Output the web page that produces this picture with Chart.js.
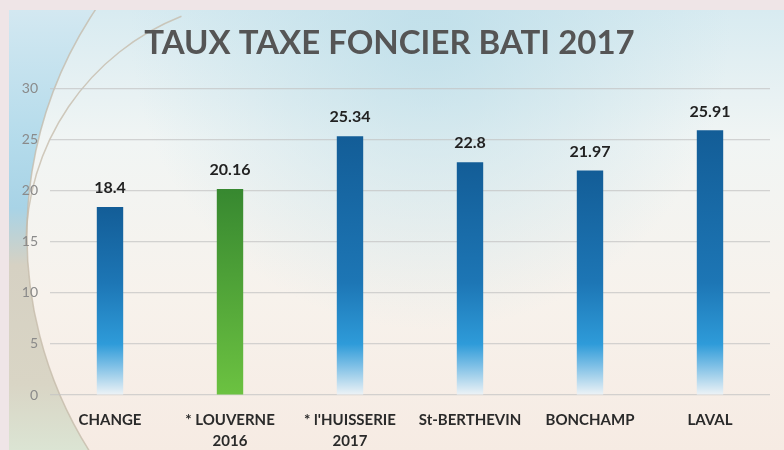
<!DOCTYPE html>
<html>
<head>
<meta charset="utf-8">
<script src="https://cdn.jsdelivr.net/npm/chart.js@4.4.0/dist/chart.umd.min.js"></script>
<style>
  html, body { margin: 0; padding: 0; background: #efe5e7; }
  #wrap { width: 784px; height: 450px; }
</style>
</head>
<body>
<div id="wrap"><canvas id="chart" width="784" height="450"></canvas></div>
<script>
const communes = [['CHANGE'], ['* LOUVERNE', '2016'], ["* l'HUISSERIE", '2017'], ['St-BERTHEVIN'], ['BONCHAMP'], ['LAVAL']];
const taux = [18.4, 20.16, 25.34, 22.8, 21.97, 25.91];
const highlight = [false, true, false, false, false, false];
const yMin = 0, yMax = 30, yStep = 5;

// decorative slide background drawn behind everything
const backdrop = {
  id: 'backdrop',
  beforeDraw(chart) {
    const { ctx, width, height } = chart;
    const px = 9, py = 10;
    ctx.save();
    ctx.fillStyle = '#efe5e7';
    ctx.fillRect(0, 0, width, height);

    ctx.beginPath();
    ctx.rect(px, py, width - px, height - py);
    ctx.clip();

    let g = ctx.createLinearGradient(0, py, 0, height);
    g.addColorStop(0, '#d8ebf1');
    g.addColorStop(0.3, '#f1f5f4');
    g.addColorStop(0.65, '#f7f2ec');
    g.addColorStop(1, '#f6ebe3');
    ctx.fillStyle = g;
    ctx.fillRect(px, py, width - px, height - py);

    const glow = ctx.createRadialGradient(430, 30, 20, 430, 30, 300);
    glow.addColorStop(0, 'rgba(185,220,232,0.7)');
    glow.addColorStop(1, 'rgba(185,220,232,0)');
    ctx.fillStyle = glow;
    ctx.fillRect(px, py, width - px, height - py);

    // area left of the big arc
    ctx.save();
    ctx.beginPath();
    ctx.rect(px, py, 150, height - py);
    ctx.clip();
    const side = ctx.createLinearGradient(0, py, 0, height);
    side.addColorStop(0, '#d3e8f1');
    side.addColorStop(0.3, '#b4dbeb');
    side.addColorStop(0.45, '#a8d3e6');
    side.addColorStop(0.58, '#d6d1c3');
    side.addColorStop(0.85, '#d9d5c5');
    side.addColorStop(1, '#dbe4d3');
    ctx.beginPath();
    ctx.rect(0, 0, width, height);
    ctx.moveTo(432 + 405, 235);
    ctx.arc(432, 235, 405, 0, Math.PI * 2);
    ctx.fillStyle = side;
    ctx.fill('evenodd');
    ctx.restore();

    ctx.lineWidth = 1.5;
    ctx.strokeStyle = 'rgba(196,186,168,0.75)';
    ctx.beginPath();
    ctx.arc(432, 235, 405, Math.PI * 0.8, Math.PI * 1.3);
    ctx.stroke();
    ctx.beginPath();
    ctx.arc(272, 245, 246, Math.PI * 1.0, Math.PI * 1.38);
    ctx.stroke();
    ctx.restore();
  }
};

const valueLabels = {
  id: 'valueLabels',
  afterDatasetsDraw(chart) {
    const { ctx } = chart;
    const meta = chart.getDatasetMeta(0);
    ctx.save();
    ctx.font = 'bold 16px Lato';
    ctx.fillStyle = '#222';
    ctx.textAlign = 'center';
    ctx.textBaseline = 'bottom';
    meta.data.forEach((bar, i) => {
      ctx.fillText(String(taux[i]), bar.x, bar.y - 11);
    });
    ctx.restore();
  }
};

function barFill(c) {
  const chart = c.chart;
  const y = chart.scales.y;
  if (!chart.chartArea || !y) return highlight[c.dataIndex] ? '#4ea23a' : '#1a6aa8';
  const top = y.getPixelForValue(c.raw);
  const base = y.getPixelForValue(0);
  const g = chart.ctx.createLinearGradient(0, top, 0, base);
  if (highlight[c.dataIndex]) {
    g.addColorStop(0, '#378830');
    g.addColorStop(1, '#6cc241');
    return g;
  }
  const f = (v) => Math.min(1, Math.max(0, (y.getPixelForValue(v) - top) / (base - top)));
  g.addColorStop(0, '#135d97');
  g.addColorStop(f(11), '#1d76b5');
  g.addColorStop(f(5), '#2e9bd9');
  g.addColorStop(f(3), '#78bde5');
  g.addColorStop(1, '#eef3f6');
  return g;
}

new Chart(document.getElementById('chart'), {
  type: 'bar',
  data: {
    labels: communes,
    datasets: [{
      data: taux,
      backgroundColor: barFill,
      borderWidth: 0,
      barPercentage: 0.22,
      categoryPercentage: 1
    }]
  },
  options: {
    responsive: false,
    animation: false,
    layout: { padding: { left: 9, right: 14, top: 10, bottom: 0 } },
    plugins: {
      legend: { display: false },
      tooltip: { enabled: false },
      title: {
        display: true,
        text: 'TAUX TAXE FONCIER BATI 2017',
        color: '#555',
        font: { family: 'Lato', size: 33, weight: 'bold' },
        padding: { top: 14, bottom: 25 }
      }
    },
    scales: {
      x: {
        afterFit(scale) { scale.height = 55; },
        grid: { display: false },
        border: { display: false },
        ticks: {
          color: '#2a2a2a',
          maxRotation: 0,
          autoSkip: false,
          padding: 7,
          font: { family: 'Lato', size: 15, weight: 'bold', lineHeight: 1.4 }
        }
      },
      y: {
        min: yMin,
        max: yMax,
        afterFit(scale) { scale.width = 41; },
        grid: { color: 'rgba(195,195,195,0.7)', lineWidth: 1.2, drawTicks: false },
        border: { display: false },
        ticks: {
          stepSize: yStep,
          color: '#8a8a8a',
          padding: 12,
          font: { family: 'Lato', size: 14 }
        }
      }
    }
  },
  plugins: [backdrop, valueLabels]
});
</script>
</body>
</html>
